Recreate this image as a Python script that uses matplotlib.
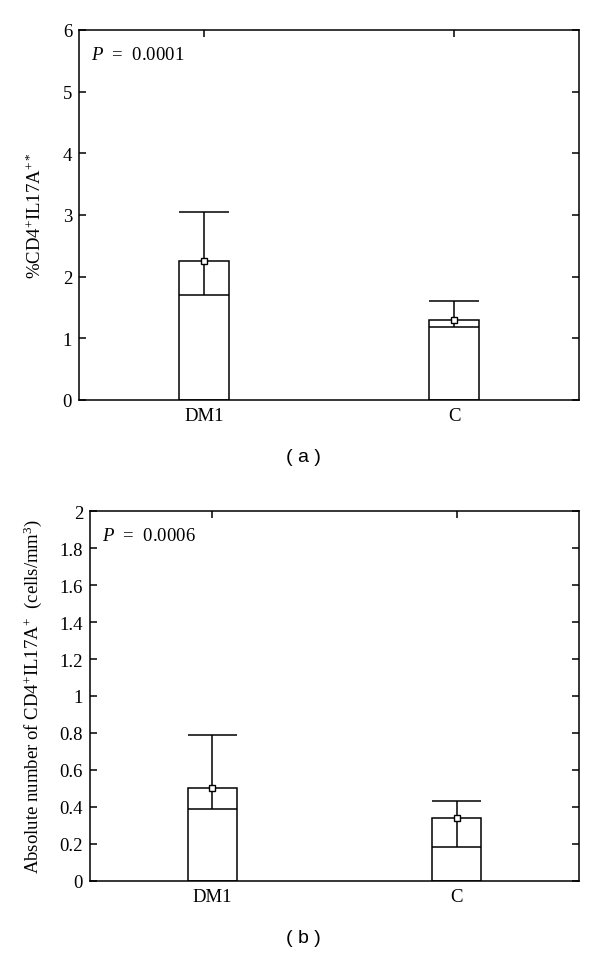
import matplotlib
matplotlib.use("Agg")
import matplotlib.pyplot as plt
from matplotlib.ticker import FormatStrFormatter

plt.rcParams['font.family'] = ['Liberation Serif', 'DejaVu Serif']
plt.rcParams['mathtext.fontset'] = 'custom'
plt.rcParams['mathtext.rm'] = 'Liberation Serif'
plt.rcParams['mathtext.it'] = 'Liberation Serif:italic'

# Daten
groups = ["DM1", "C"]
pct_mean = [2.25, 1.30]
pct_median = [1.70, 1.19]
pct_max = [3.05, 1.60]
abs_mean = [0.50, 0.34]
abs_median = [0.39, 0.185]
abs_max = [0.79, 0.43]

pos = [1, 2]
w = 0.2

fig = plt.figure(figsize=(6, 9.62), dpi=100)
ax_a = fig.add_axes([0.1317, 0.5832, 0.8333, 0.3846])
ax_b = fig.add_axes([0.15, 0.0835, 0.815, 0.384])


def draw_panel(ax, mean, median, vmax, ymax, yticks, ylabel, ptext, labx):
    ax.bar(pos, mean, width=w, color='white', edgecolor='black', linewidth=1.1, zorder=2)
    ax.hlines(median, [p - w / 2 for p in pos], [p + w / 2 for p in pos],
              color='black', linewidth=1.1, zorder=3)
    ax.vlines(pos, median, vmax, color='black', linewidth=1.1, zorder=3)
    ax.hlines(vmax, [p - w / 2 for p in pos], [p + w / 2 for p in pos],
              color='black', linewidth=1.1, zorder=3)
    ax.plot(pos, mean, 's', ms=4.5, mfc='white', mec='black', mew=1.0,
            clip_on=False, zorder=4)
    ax.set_xlim(0.5, 2.5)
    ax.set_ylim(0, ymax)
    ax.set_xticks(pos)
    ax.set_xticklabels(groups)
    ax.set_yticks(yticks)
    ax.yaxis.set_major_formatter(FormatStrFormatter('%g'))
    ax.tick_params(direction='in', length=5, width=1.1, top=True, right=True,
                   labelsize=13.5, pad=5)
    for s in ax.spines.values():
        s.set_linewidth(1.1)
    ax.set_ylabel(ylabel, fontsize=13.5)
    ax.yaxis.set_label_coords(labx, 0.5)
    ax.text(0.024, 0.935, ptext, transform=ax.transAxes, fontsize=13.5,
            ha='left', va='center')


draw_panel(ax_a, pct_mean, pct_median, pct_max, 6, [0, 1, 2, 3, 4, 5, 6],
           "%CD4$^{+}$IL17A$^{+*}$", "$P$  =  0.0001", -0.068)
draw_panel(ax_b, abs_mean, abs_median, abs_max, 2,
           [0, 0.2, 0.4, 0.6, 0.8, 1, 1.2, 1.4, 1.6, 1.8, 2],
           "Absolute number of CD4$^{+}$IL17A$^{+}$  (cells/mm$^{3}$)",
           "$P$  =  0.0006", -0.094)

fig.text(0.505, 1 - 458 / 962, "( a )", ha='center', va='center',
         fontsize=14, family=['Liberation Sans', 'DejaVu Sans'])
fig.text(0.505, 1 - 939 / 962, "( b )", ha='center', va='center',
         fontsize=14, family=['Liberation Sans', 'DejaVu Sans'])

fig.savefig("out.png", dpi=100)
